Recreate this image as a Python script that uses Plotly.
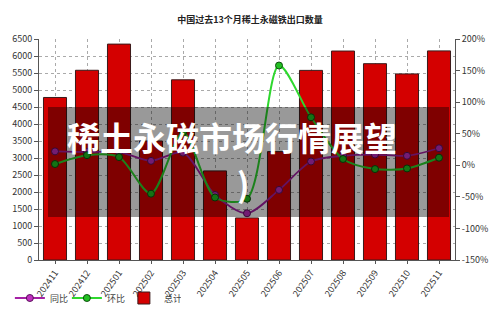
import plotly.graph_objects as go

months = ["202411", "202412", "202501", "202502", "202503", "202504", "202505",
          "202506", "202507", "202508", "202509", "202510", "202511"]
total = [4780, 5580, 6350, 3500, 5300, 2620, 1238, 3188, 5577, 6146, 5774, 5473, 6150]
yoy = [22, 21, 21, 7, 20, -47, -76, -39, 6, 15, 17, 15, 27]
mom = [2, 16, 13, -45, 52, -51, -53, 158, 76, 10, -6, -5, 12]

title_text = "中国过去13个月稀土永磁铁出口数量"
overlay_text = "稀土永磁市场行情展望"
left_ticks = list(range(0, 6501, 500))
right_ticks = list(range(-150, 201, 50))

FONT = "Noto Sans CJK SC, Noto Sans, sans-serif"

fig = go.Figure()
fig.add_trace(go.Bar(
    x=months, y=total, name="总计", width=0.72,
    marker=dict(color="#d40000", line=dict(color="#3a1a1a", width=1)),
    legendrank=3, yaxis="y",
))
fig.add_trace(go.Scatter(
    x=months, y=yoy, name="同比", mode="lines+markers", yaxis="y2",
    line=dict(color="#a521a5", width=1.8, shape="spline", smoothing=0.8),
    marker=dict(size=7, color="#c030c0", line=dict(color="#5a105a", width=1)),
    legendrank=1,
))
fig.add_trace(go.Scatter(
    x=months, y=mom, name="环比", mode="lines+markers", yaxis="y2",
    line=dict(color="#2ed82e", width=2, shape="spline", smoothing=0.8),
    marker=dict(size=7, color="#22c022", line=dict(color="#0d4d0d", width=1)),
    legendrank=2,
))

fig.update_layout(
    width=500, height=325,
    margin=dict(l=39, r=45, t=39, b=65, autoexpand=False),
    paper_bgcolor="white", plot_bgcolor="white",
    font=dict(family=FONT, size=9, color="#333"),
    title=dict(text="<b>" + title_text + "</b>", x=0.5, xanchor="center",
               y=1 - 20 / 325, yanchor="middle", font=dict(size=9, color="#222")),
    bargap=0.28,
    showlegend=True,
    legend=dict(orientation="h", x=-0.07, xanchor="left", y=-0.172, yanchor="middle",
                font=dict(size=9, color="#444"), bgcolor="rgba(0,0,0,0)",
                itemwidth=30, entrywidth=12, traceorder="normal"),
    xaxis=dict(type="category", range=[-0.5, 12.5], tickangle=-55,
               showgrid=True, gridcolor="#aaa", griddash="dot", gridwidth=1,
               showline=True, linecolor="#555", ticks="outside", ticklen=3,
               tickcolor="#555", tickfont=dict(size=9, color="#333")),
    yaxis=dict(range=[0, 6500], tickvals=left_ticks, ticktext=[str(v) for v in left_ticks],
               showgrid=True, gridcolor="#aaa", griddash="dot", gridwidth=1,
               showline=True, linecolor="#555", ticks="outside", ticklen=4,
               tickcolor="#555", zeroline=False, tickfont=dict(size=9, color="#333")),
    yaxis2=dict(range=[-150, 200], overlaying="y", side="right",
                tickvals=right_ticks, ticktext=[f"{v}%" for v in right_ticks],
                showgrid=False, showline=True, linecolor="#555", ticks="outside",
                ticklen=4, tickcolor="#555", zeroline=False,
                tickfont=dict(size=9, color="#333")),
)

# semi-transparent overlay banner
fig.add_shape(type="rect", xref="paper", yref="paper",
              x0=(48 - 39) / 416, x1=(449 - 39) / 416,
              y0=(260 - 217) / 221, y1=(260 - 107) / 221,
              fillcolor="rgba(0,0,0,0.4)", line=dict(width=0), layer="above")
fig.add_annotation(text="<b>" + overlay_text + "</b>", xref="paper", yref="paper",
                   x=(232 - 39) / 416, y=(260 - 137) / 221, showarrow=False,
                   font=dict(size=33, color="white", family=FONT))
fig.add_annotation(text="<b>)</b>", xref="paper", yref="paper",
                   x=(243 - 39) / 416, y=(260 - 183) / 221, showarrow=False,
                   font=dict(size=33, color="white", family=FONT))

fig.write_html("out.html")
